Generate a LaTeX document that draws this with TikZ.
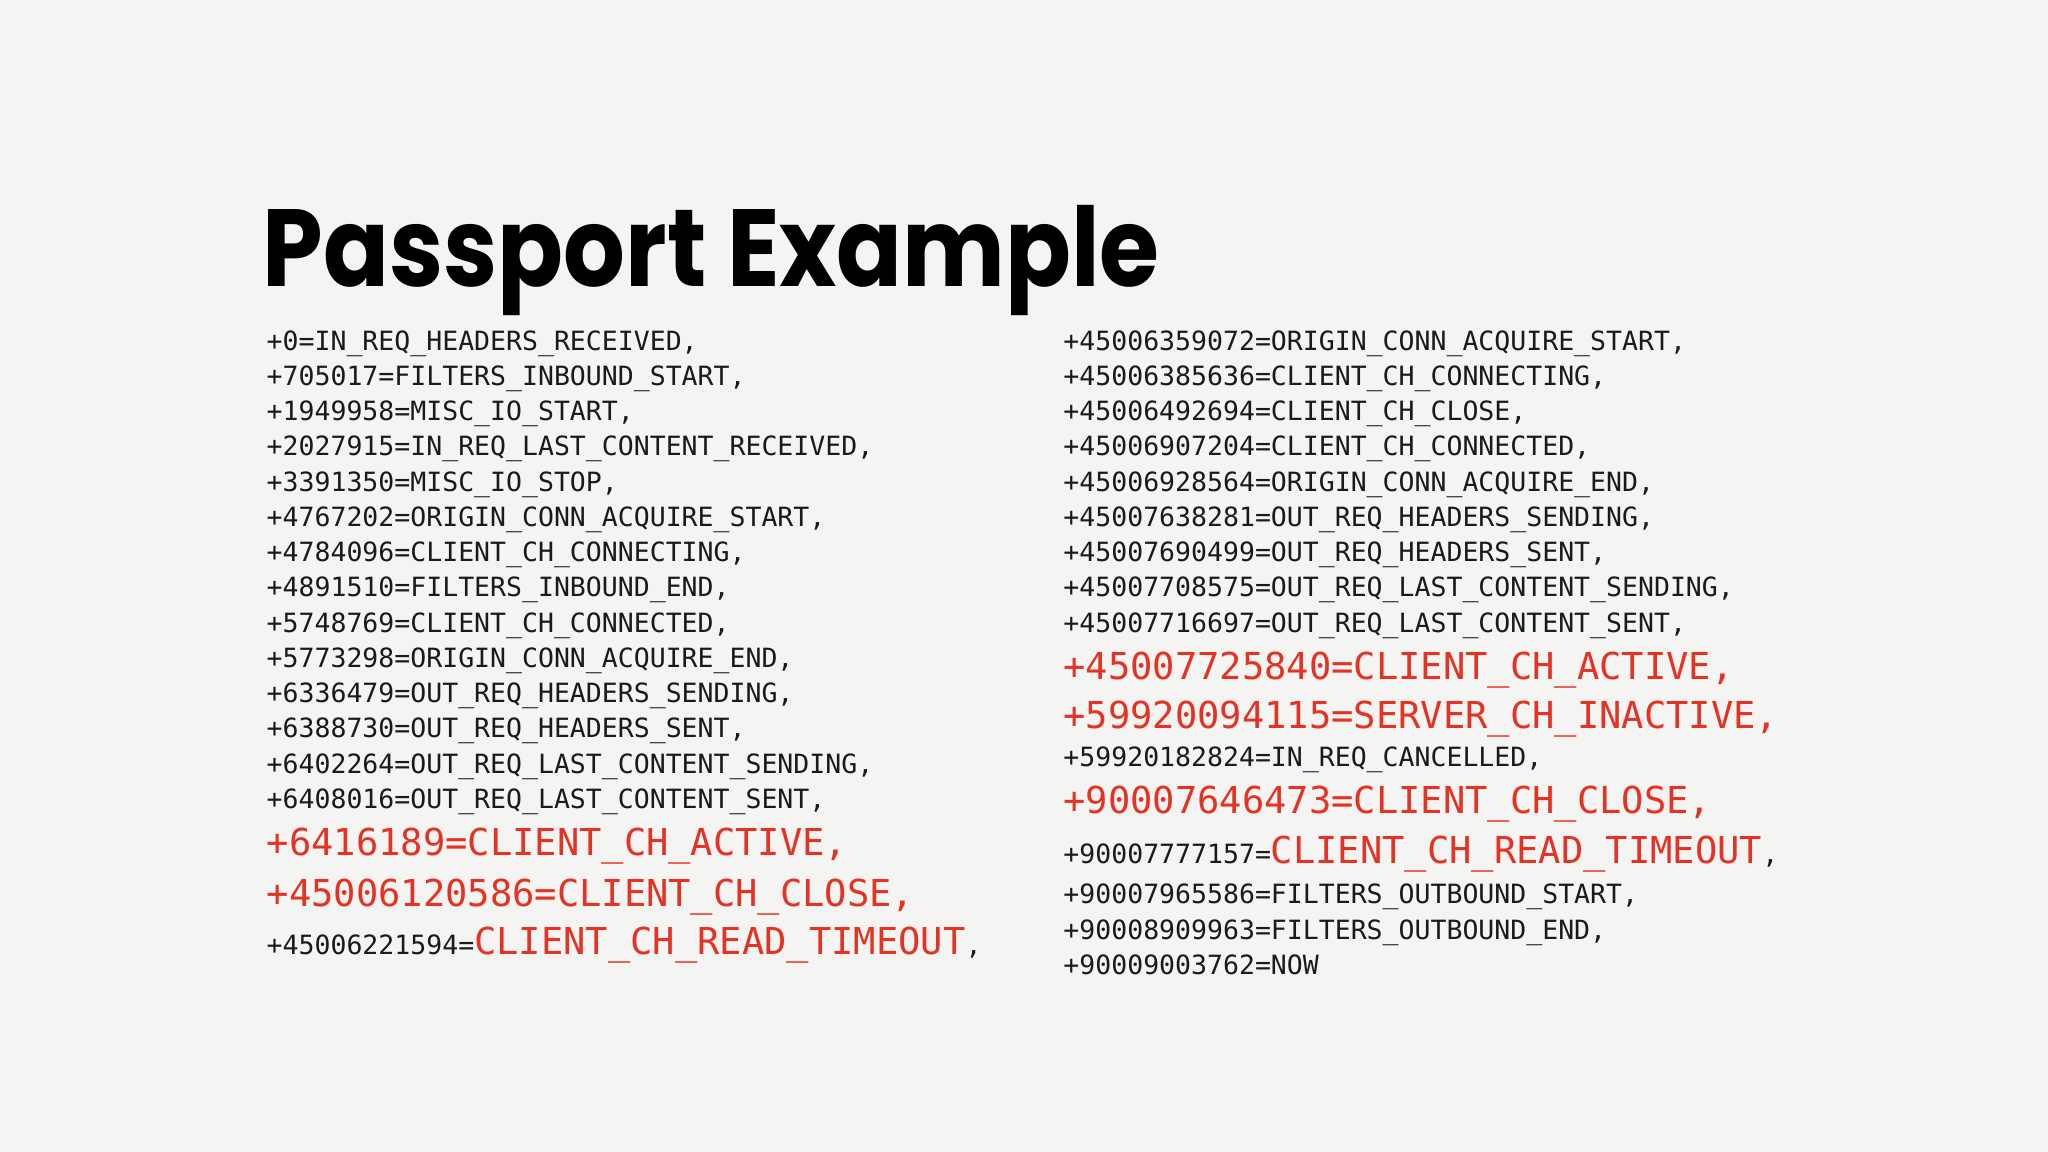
\documentclass[tikz,border=0pt]{standalone}
\usepackage{graphicx}
\usepackage{fontspec}
\setmainfont{Poppins}
\newfontfamily\monof{DejaVu Sans Mono}
\newfontfamily\titlef{Poppins}[UprightFont=* Bold]
\definecolor{bgcol}{HTML}{F4F4F2}
\definecolor{redt}{HTML}{E53222}
\definecolor{ink}{HTML}{1A1A1A}
\begin{document}
\begin{tikzpicture}[x=1pt,y=-1pt,
  sm/.style={anchor=base west,inner sep=0,text=ink,font=\monof\fontsize{20.3}{20}\selectfont},
  big/.style={anchor=base west,inner sep=0,text=redt,font=\monof\fontsize{28.4}{28}\selectfont}]
\fill[bgcol] (0,0) rectangle (1568,882);
\useasboundingbox (0,0) rectangle (1568,882);
\newcommand{\R}[1]{{\color{redt}\fontsize{28.4}{28}\selectfont #1}}
\node[anchor=base west,inner sep=0,text=black,font=\titlef\fontsize{84}{84}\selectfont] (title) at (201,219) {\scalebox{0.885}[1]{Passport Example}};
\node[sm] (l1) at (204,268) {+0=IN\_REQ\_HEADERS\_RECEIVED,};
\node[sm] (l2) at (204,295) {+705017=FILTERS\_INBOUND\_START,};
\node[sm] (l3) at (204,322) {+1949958=MISC\_IO\_START,};
\node[sm] (l4) at (204,349) {+2027915=IN\_REQ\_LAST\_CONTENT\_RECEIVED,};
\node[sm] (l5) at (204,376) {+3391350=MISC\_IO\_STOP,};
\node[sm] (l6) at (204,403) {+4767202=ORIGIN\_CONN\_ACQUIRE\_START,};
\node[sm] (l7) at (204,430) {+4784096=CLIENT\_CH\_CONNECTING,};
\node[sm] (l8) at (204,457) {+4891510=FILTERS\_INBOUND\_END,};
\node[sm] (l9) at (204,484) {+5748769=CLIENT\_CH\_CONNECTED,};
\node[sm] (l10) at (204,511) {+5773298=ORIGIN\_CONN\_ACQUIRE\_END,};
\node[sm] (l11) at (204,538) {+6336479=OUT\_REQ\_HEADERS\_SENDING,};
\node[sm] (l12) at (204,565) {+6388730=OUT\_REQ\_HEADERS\_SENT,};
\node[sm] (l13) at (204,592) {+6402264=OUT\_REQ\_LAST\_CONTENT\_SENDING,};
\node[sm] (l14) at (204,619) {+6408016=OUT\_REQ\_LAST\_CONTENT\_SENT,};
\node[big] (l15) at (204,655) {+6416189=CLIENT\_CH\_ACTIVE,};
\node[big] (l16) at (204,694) {+45006120586=CLIENT\_CH\_CLOSE,};
\node[sm] (l17) at (204,731) {+45006221594=\R{CLIENT\_CH\_READ\_TIMEOUT},};
\node[sm] (r1) at (814,268) {+45006359072=ORIGIN\_CONN\_ACQUIRE\_START,};
\node[sm] (r2) at (814,295) {+45006385636=CLIENT\_CH\_CONNECTING,};
\node[sm] (r3) at (814,322) {+45006492694=CLIENT\_CH\_CLOSE,};
\node[sm] (r4) at (814,349) {+45006907204=CLIENT\_CH\_CONNECTED,};
\node[sm] (r5) at (814,376) {+45006928564=ORIGIN\_CONN\_ACQUIRE\_END,};
\node[sm] (r6) at (814,403) {+45007638281=OUT\_REQ\_HEADERS\_SENDING,};
\node[sm] (r7) at (814,430) {+45007690499=OUT\_REQ\_HEADERS\_SENT,};
\node[sm] (r8) at (814,457) {+45007708575=OUT\_REQ\_LAST\_CONTENT\_SENDING,};
\node[sm] (r9) at (814,484) {+45007716697=OUT\_REQ\_LAST\_CONTENT\_SENT,};
\node[big] (r10) at (814,520) {+45007725840=CLIENT\_CH\_ACTIVE,};
\node[big] (r11) at (814,558) {+59920094115=SERVER\_CH\_INACTIVE,};
\node[sm] (r12) at (814,587) {+59920182824=IN\_REQ\_CANCELLED,};
\node[big] (r13) at (814,623) {+90007646473=CLIENT\_CH\_CLOSE,};
\node[sm] (r14) at (814,661) {+90007777157=\R{CLIENT\_CH\_READ\_TIMEOUT},};
\node[sm] (r15) at (814,692) {+90007965586=FILTERS\_OUTBOUND\_START,};
\node[sm] (r16) at (814,719) {+90008909963=FILTERS\_OUTBOUND\_END,};
\node[sm] (r17) at (814,746) {+90009003762=NOW};
\end{tikzpicture}
\end{document}
